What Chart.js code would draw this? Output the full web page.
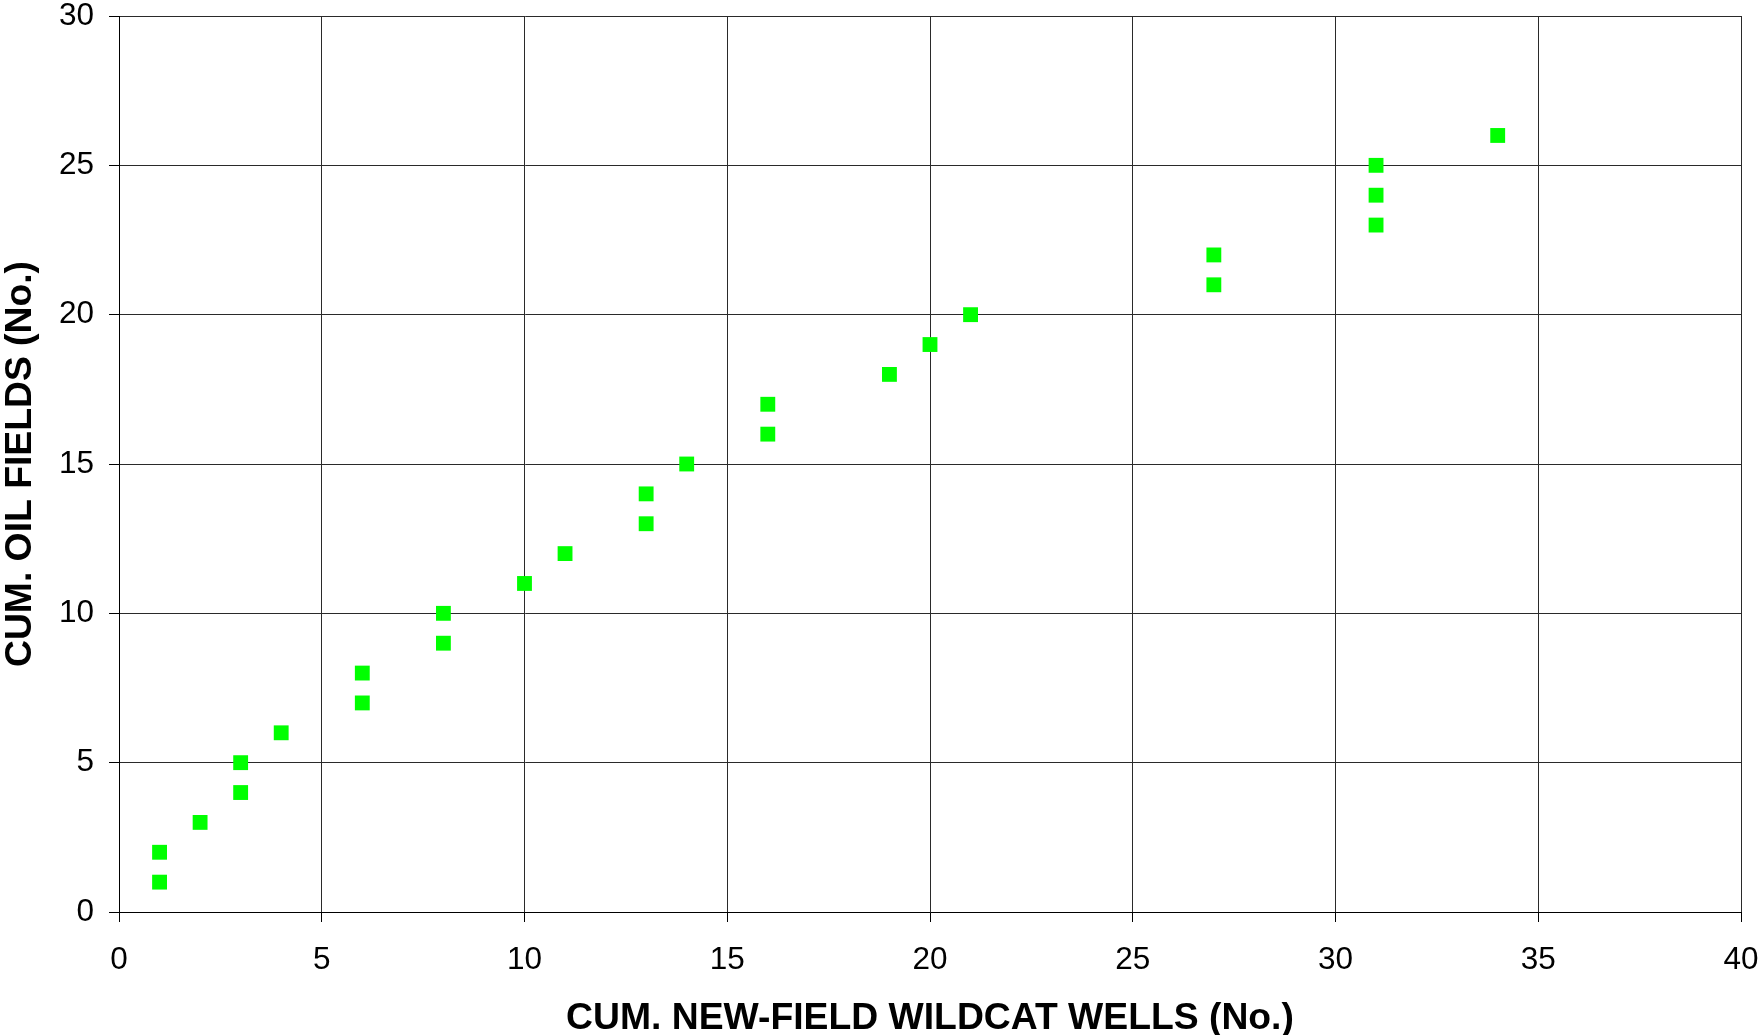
<!DOCTYPE html>
<html>
<head>
<meta charset="utf-8">
<script src="https://cdn.jsdelivr.net/npm/chart.js@4.4.0/dist/chart.umd.min.js"></script>
<style>
  html, body { margin: 0; padding: 0; background: #fff; }
  #wrap { width: 1760px; height: 1035px; }
</style>
</head>
<body>
<div id="wrap"><canvas id="chart" width="1760" height="1035"></canvas></div>
<script>
  // cumulative wildcat wells vs cumulative oil fields
  var wells = [1, 1, 2, 3, 3, 4, 6, 6, 8, 8, 10, 11, 13, 13, 14, 16, 16, 19, 20, 21, 27, 27, 31, 31, 31, 34];
  var fields = [1, 2, 3, 4, 5, 6, 7, 8, 9, 10, 11, 12, 13, 14, 15, 16, 17, 18, 19, 20, 21, 22, 23, 24, 25, 26];
  var xTitle = "CUM. NEW-FIELD WILDCAT WELLS (No.)";
  var yTitle = "CUM. OIL FIELDS (No.)";

  var points = wells.map(function (w, i) {
    return { x: w, y: fields[i] };
  });

  var fontFamily = "'Liberation Sans', Arial, sans-serif";
  var gridColor = "#2a2a2a";

  // labels may overhang the plot edges, so drop the automatic edge padding
  function noEdgePadding(scale) {
    scale.paddingTop = 0;
    scale.paddingBottom = 0;
    scale.paddingLeft = 0;
    scale.paddingRight = 0;
  }

  new Chart(document.getElementById("chart"), {
    type: "scatter",
    data: {
      datasets: [
        {
          data: points,
          pointStyle: "rect",
          pointRadius: 10.5,
          pointHoverRadius: 10.5,
          pointBorderWidth: 0,
          backgroundColor: "#00ff00",
          borderColor: "#00ff00",
        },
      ],
    },
    options: {
      responsive: false,
      animation: false,
      devicePixelRatio: 1,
      layout: { padding: { top: 16, right: 19, left: 0, bottom: 0 } },
      plugins: { legend: { display: false }, tooltip: { enabled: false } },
      scales: {
        x: {
          type: "linear",
          min: 0,
          max: 40,
          grid: { color: gridColor, lineWidth: 1, tickLength: 10, tickColor: "#000" },
          border: { color: "#000", width: 1 },
          ticks: {
            stepSize: 5,
            padding: 23,
            color: "#000",
            maxRotation: 0,
            font: { family: fontFamily, size: 31.5, lineHeight: 1 },
          },
          title: {
            display: true,
            text: xTitle,
            color: "#000",
            padding: 0,
            font: { family: fontFamily, size: 37.3, weight: "bold", lineHeight: 0.85 },
          },
          afterFit: function (scale) {
            scale.height = 123;
            noEdgePadding(scale);
          },
        },
        y: {
          type: "linear",
          min: 0,
          max: 30,
          grid: { color: gridColor, lineWidth: 1, tickLength: 10, tickColor: "#000" },
          border: { color: "#000", width: 1 },
          ticks: {
            stepSize: 5,
            padding: 15,
            color: "#000",
            font: { family: fontFamily, size: 31.5, lineHeight: 1 },
          },
          title: {
            display: true,
            text: yTitle,
            color: "#000",
            padding: { top: 2.5, bottom: 0 },
            font: { family: fontFamily, size: 37.3, weight: "bold", lineHeight: 1 },
          },
          afterFit: function (scale) {
            scale.width = 119;
            noEdgePadding(scale);
          },
        },
      },
    },
  });
</script>
</body>
</html>
